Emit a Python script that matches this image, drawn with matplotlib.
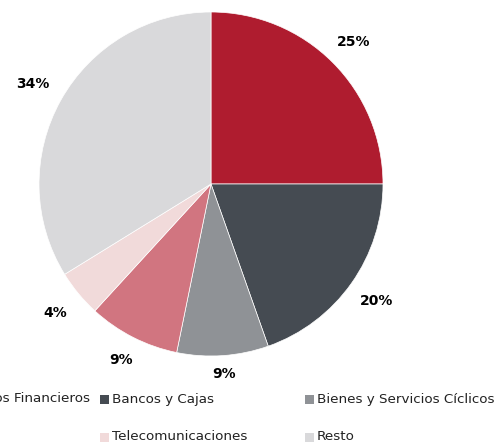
import numpy as np
import matplotlib
matplotlib.use('Agg')
import matplotlib.pyplot as plt
from matplotlib.patches import Rectangle

# sector shares (%)
sectors = ['Servicios Financieros', 'Bancos y Cajas', 'Bienes y Servicios Cíclicos',
           'Energía', 'Telecomunicaciones', 'Resto']
shares = [25.0, 19.6, 8.6, 8.6, 4.4, 33.8]
colors = ['#AF1C2F', '#454B52', '#8F9296', '#D17580', '#F1DADA', '#D9D9DB']

W, H = 496, 443
fig = plt.figure(figsize=(W / 100, H / 100), dpi=100)

# pie centre/radius in pixels
cx, cy, R = 211, 184, 172
ax = fig.add_axes([(cx - R) / W, (H - cy - R) / H, 2 * R / W, 2 * R / H])
wedges, _, autotexts = ax.pie(shares, colors=colors, startangle=90, counterclock=False,
                              radius=1.0, autopct='%.0f%%', pctdistance=1.15,
                              wedgeprops=dict(edgecolor='white', linewidth=0.5),
                              textprops=dict(fontsize=10, fontweight='bold', color='black'))
ax.set_xlim(-1, 1)
ax.set_ylim(-1, 1)
ax.set_aspect('equal')
ax.axis('off')

# push labels out a bit more on the sides than at top/bottom
for w, t in zip(wedges, autotexts):
    ang = np.deg2rad((w.theta1 + w.theta2) / 2)
    r = 1.10 + 0.10 * abs(np.cos(ang))
    t.set_position((r * np.cos(ang), r * np.sin(ang)))
    t.set_clip_on(False)

# legend drawn by hand: 3 columns, wider than the figure
col_x = [-105, 100, 305]
row_y = [399, 437]
box = 9
fs = 9.7
for i, (lab, c) in enumerate(zip(sectors, colors)):
    row, col = divmod(i, 3)
    x = col_x[col]
    y = row_y[row]
    fig.patches.append(Rectangle((x / W, (H - y - box / 2) / H), box / W, box / H,
                                 transform=fig.transFigure, facecolor=c, edgecolor='none'))
    if i == 0:
        # first column runs off the left edge; only its tail shows
        fig.text(90 / W, (H - y) / H, lab, ha='right', va='center', fontsize=fs, color='#222222')
    else:
        fig.text((x + box + 3) / W, (H - y) / H, lab, ha='left', va='center',
                 fontsize=fs, color='#222222')

fig.savefig('out.png', dpi=100)
